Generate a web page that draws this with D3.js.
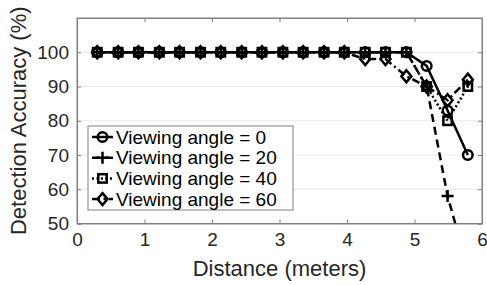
<!DOCTYPE html>
<html>
<head>
<meta charset="utf-8">
<script src="https://cdn.jsdelivr.net/npm/d3@7"></script>
<style>
  body { margin: 0; background: #fff; }
  svg { display: block; font-family: "Liberation Sans", Arial, sans-serif; }
</style>
</head>
<body>
<div id="chart"></div>
<script>
// distances are 1..19 feet in meters
let distances = [0.30, 0.61, 0.91, 1.22, 1.52, 1.83, 2.13, 2.44, 2.74, 3.05,
    3.35, 3.66, 3.96, 4.27, 4.57, 4.88, 5.18, 5.49, 5.79];
let angle0 = [100, 100, 100, 100, 100, 100, 100, 100, 100, 100, 100, 100, 100, 100, 100, 100, 96, 83, 70];
let angle20 = [100, 100, 100, 100, 100, 100, 100, 100, 100, 100, 100, 100, 100, 100, 100, 100, 90, 58, 37];
let angle40 = [100, 100, 100, 100, 100, 100, 100, 100, 100, 100, 100, 100, 100, 100, 100, 100, 90, 80, 90];
let angle60 = [100, 100, 100, 100, 100, 100, 100, 100, 100, 100, 100, 100, 100, 98, 98, 93, 90, 86, 92];
let seriesNames = ["Viewing angle = 0", "Viewing angle = 20", "Viewing angle = 40", "Viewing angle = 60"];
let xTicks = [0, 1, 2, 3, 4, 5, 6];
let yTicks = [50, 60, 70, 80, 90, 100];

const width = 487, height = 285;
const margin = {top: 18, right: 5, bottom: 61.5, left: 77};
const plotW = width - margin.left - margin.right;
const plotH = height - margin.top - margin.bottom;

let svg = d3.select("#chart").append("svg")
    .attr("width", width)
    .attr("height", height);

let g = svg.append("g")
    .attr("transform", `translate(${margin.left}, ${margin.top})`);

let x = d3.scaleLinear().domain([0, 6]).range([0, plotW]);
let y = d3.scaleLinear().domain([50, 110]).range([plotH, 0]);

// grid lines
g.append("g").selectAll("line").data(yTicks).enter().append("line")
    .attr("x1", 0).attr("x2", plotW)
    .attr("y1", d => y(d)).attr("y2", d => y(d))
    .attr("stroke", "#e8e8e8").attr("stroke-width", 1);

// axes
g.append("g")
    .attr("transform", `translate(0, ${plotH})`)
    .call(d3.axisBottom(x).tickValues(xTicks).tickFormat(d3.format("d")).tickSize(-4).tickPadding(9));
g.append("g")
    .call(d3.axisLeft(y).tickValues(yTicks).tickFormat(d3.format("d")).tickSize(-4).tickPadding(8));
// right and top ticks
g.append("g")
    .attr("transform", `translate(${plotW}, 0)`)
    .call(d3.axisRight(y).tickValues(yTicks).tickSize(-4).tickFormat(""));
g.append("g")
    .call(d3.axisTop(x).tickValues(xTicks).tickSize(-4).tickFormat(""));

g.selectAll(".domain").attr("stroke", "#808080");
g.selectAll(".tick line").attr("stroke", "#808080");
g.selectAll(".tick text").attr("fill", "#262626").style("font-size", "19px");

// box
g.append("rect")
    .attr("width", plotW).attr("height", plotH)
    .attr("fill", "none").attr("stroke", "#808080").attr("stroke-width", 1);

// axis labels
svg.append("text")
    .attr("x", margin.left + plotW / 2).attr("y", 276)
    .attr("text-anchor", "middle")
    .attr("fill", "#262626")
    .style("font-size", "22px")
    .text("Distance (meters)");
svg.append("text")
    .attr("transform", `translate(26, ${margin.top + plotH / 2}) rotate(-90)`)
    .attr("text-anchor", "middle")
    .attr("fill", "#262626")
    .style("font-size", "22px")
    .text("Detection Accuracy (%)");

// series
let series = [
    {name: seriesNames[0], values: angle0, dash: null, marker: "circle"},
    {name: seriesNames[1], values: angle20, dash: "8,5", marker: "plus"},
    {name: seriesNames[2], values: angle40, dash: "2,2.5", marker: "square"},
    {name: seriesNames[3], values: angle60, dash: "8,3.5,2,3.5", marker: "diamond"}
];

svg.append("defs").append("clipPath").attr("id", "clip")
    .append("rect").attr("width", plotW).attr("height", plotH);

let line = d3.line().x(d => x(d[0])).y(d => y(d[1]));

let plot = g.append("g").attr("clip-path", "url(#clip)");

function drawMarker(sel, type) {
    if (type == "circle") {
        sel.append("circle").attr("r", 4.8);
    } else if (type == "plus") {
        sel.append("path").attr("d", "M-6,0H6M0,-6V6");
    } else if (type == "square") {
        sel.append("rect").attr("x", -4.2).attr("y", -4.2).attr("width", 8.4).attr("height", 8.4);
    } else {
        sel.append("path").attr("d", "M0,-6L5,0L0,6L-5,0Z");
    }
}

series.forEach(s => {
    let pts = distances.map((d, i) => [d, s.values[i]]);
    plot.append("path")
        .datum(pts)
        .attr("fill", "none")
        .attr("stroke", "#000")
        .attr("stroke-width", 2.5)
        .attr("stroke-dasharray", s.dash)
        .attr("d", line);
});

series.forEach(s => {
    let pts = distances.map((d, i) => [d, s.values[i]]);
    let m = plot.append("g").selectAll("g").data(pts).enter().append("g")
        .attr("transform", d => `translate(${x(d[0])}, ${y(d[1])})`)
        .attr("fill", "none")
        .attr("stroke", "#000")
        .attr("stroke-width", 2.5);
    drawMarker(m, s.marker);
});

// legend
let legend = svg.append("g").attr("transform", "translate(88, 126)");
legend.append("rect")
    .attr("width", 205).attr("height", 84)
    .attr("fill", "#fff").attr("stroke", "#808080").attr("stroke-width", 1);

series.forEach((s, i) => {
    let row = legend.append("g").attr("transform", `translate(0, ${11 + i * 20.7})`);
    row.append("line")
        .attr("x1", 4).attr("x2", 25)
        .attr("stroke", "#000").attr("stroke-width", 2.5)
        .attr("stroke-dasharray", s.dash);
    let m = row.append("g").attr("transform", "translate(14.5, 0)")
        .attr("fill", "none").attr("stroke", "#000").attr("stroke-width", 2.5);
    drawMarker(m, s.marker);
    row.append("text")
        .attr("x", 28).attr("y", 0)
        .attr("dy", "0.35em")
        .attr("fill", "#000")
        .style("font-size", "19px")
        .text(s.name);
});
</script>
</body>
</html>
